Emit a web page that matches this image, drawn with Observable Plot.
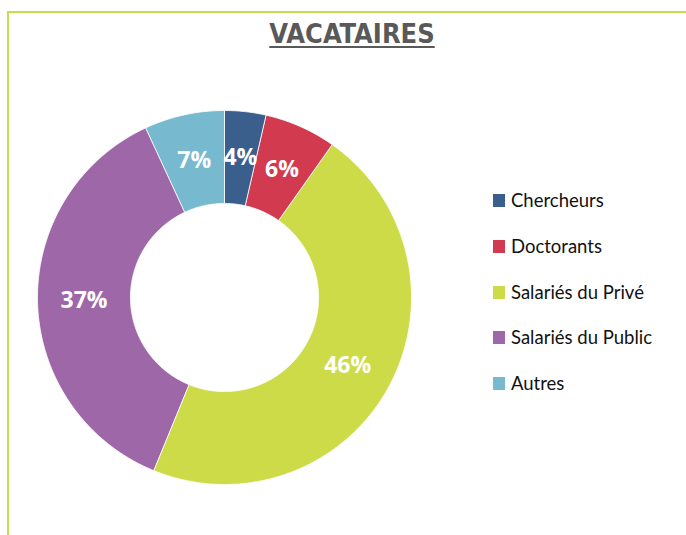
<!DOCTYPE html>
<html><head><meta charset="utf-8">
<script src="https://cdn.jsdelivr.net/npm/d3@7"></script>
<script src="https://cdn.jsdelivr.net/npm/@observablehq/plot@0.6"></script>
<style>
body{margin:0;background:#fff;}
#wrap{position:relative;width:686px;height:535px;overflow:hidden;}
#frame{position:absolute;left:7px;top:11px;width:700px;height:540px;border-top:2px solid #c9dc4e;border-left:2px solid #c9dc4e;}
#title{position:absolute;left:0;width:704px;top:18px;text-align:center;font-family:"Liberation Sans Narrow","DejaVu Sans Condensed",sans-serif;font-weight:bold;font-size:27px;color:#595959;text-decoration:underline;text-decoration-thickness:2px;text-underline-offset:3px;}
#plot{position:absolute;left:0;top:0;}
#legend{position:absolute;left:493px;top:189px;font-family:Lato,"Open Sans",sans-serif;font-size:18.5px;color:#111;}
.row{height:45.8px;display:flex;align-items:flex-start;}
.sw{width:12px;height:13px;margin-top:5px;margin-right:6px;}
</style></head>
<body><div id="wrap"><div id="frame"></div><div id="plot"></div><div id="title">VACATAIRES</div><div id="legend"></div></div>
<script>
const categories = ["Chercheurs","Doctorants","Salariés du Privé","Salariés du Public","Autres"];
const values = [3.6, 6.2, 46.4, 36.9, 6.9];
const labels = ["4%","6%","46%","37%","7%"];
const colors = ["#3b5f8d","#d13a4f","#cedb48","#9e67a7","#77b9cf"];

const W = 686, H = 535, cx = 224, cy = 297, R = 187;
const inner = 0.503;

const table = categories.map((c, i) => ({cat: c, value: values[i], label: labels[i]}));
const arcs = d3.pie().sort(null).value(d => d.value)(table);

const pts = [];
for (const a of arcs) {
  const n = Math.max(4, Math.ceil((a.endAngle - a.startAngle) / 0.01));
  for (let k = 0; k <= n; k++) {
    const t = a.startAngle + (a.endAngle - a.startAngle) * k / n;
    pts.push({cat: a.data.cat, x: Math.sin(t), y: Math.cos(t)});
  }
  for (let k = n; k >= 0; k--) {
    const t = a.startAngle + (a.endAngle - a.startAngle) * k / n;
    pts.push({cat: a.data.cat, x: inner * Math.sin(t), y: inner * Math.cos(t)});
  }
}
const mids = arcs.map(a => {
  const m = (a.startAngle + a.endAngle) / 2, r = (1 + inner) / 2;
  return {label: a.data.label, x: r * Math.sin(m), y: r * Math.cos(m)};
});

const chart = Plot.plot({
  width: W, height: H, margin: 0,
  style: {background: "transparent", overflow: "visible"},
  x: {domain: [-cx / R, (W - cx) / R], axis: null},
  y: {domain: [-(H - cy) / R, cy / R], axis: null},
  color: {domain: categories, range: colors},
  marks: [
    Plot.line(pts, {x: "x", y: "y", z: "cat", fill: "cat", stroke: "white", strokeWidth: 1, strokeOpacity: 0.8, curve: "linear-closed"}),
    Plot.text(mids, {x: "x", y: "y", text: "label", fill: "white", fontWeight: "bold", fontSize: 23, fontFamily: "'Open Sans', Lato, sans-serif"})
  ]
});
document.getElementById("plot").appendChild(chart);

const leg = document.getElementById("legend");
categories.forEach((c, i) => {
  const row = document.createElement("div"); row.className = "row";
  const sw = document.createElement("div"); sw.className = "sw"; sw.style.background = colors[i];
  const tx = document.createElement("span"); tx.textContent = c;
  row.appendChild(sw); row.appendChild(tx); leg.appendChild(row);
});
</script></body></html>
